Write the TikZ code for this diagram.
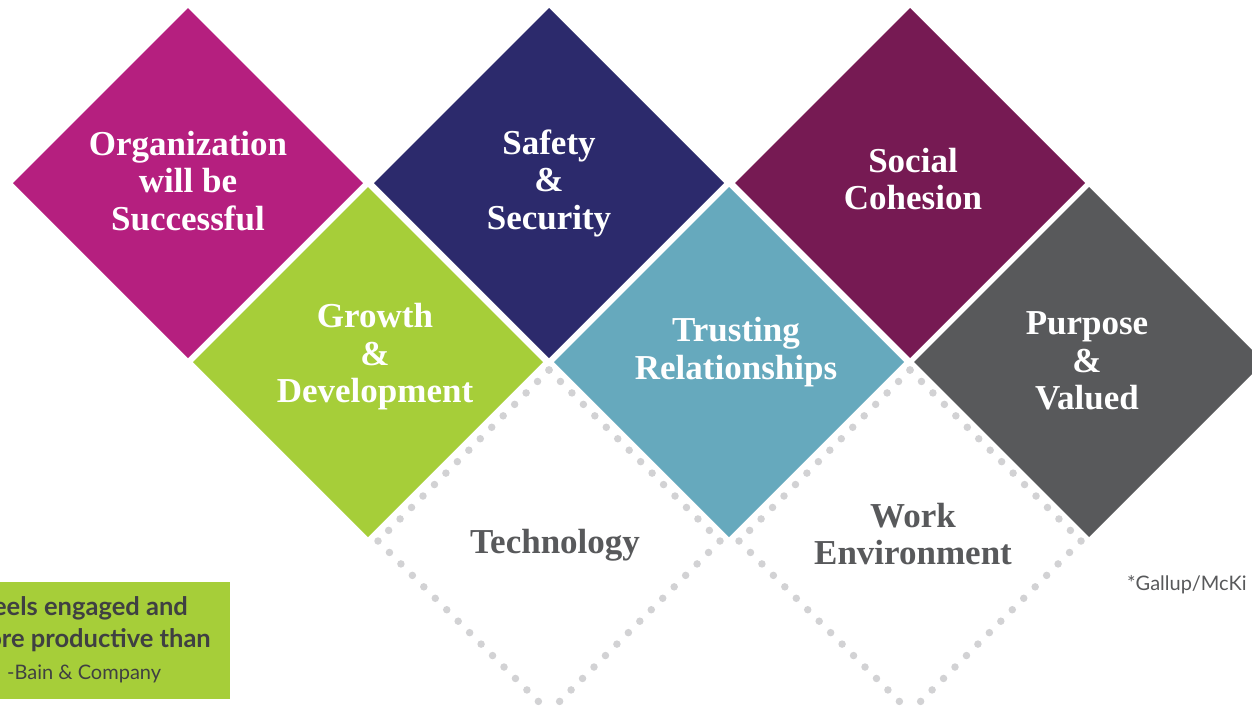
\documentclass[tikz,border=0pt]{standalone}
\usepackage{fontspec}
\setmainfont{Liberation Serif}
\newfontfamily\latofont{Lato}
\usetikzlibrary{shapes.geometric}

\definecolor{tileMagenta}{HTML}{B51F7F}
\definecolor{tileNavy}{HTML}{2C2A6C}
\definecolor{tilePlum}{HTML}{761A53}
\definecolor{tileLime}{HTML}{A6CE39}
\definecolor{tileTeal}{HTML}{66A9BD}
\definecolor{tileSlate}{HTML}{58595B}
\definecolor{dotGray}{HTML}{D2D2D4}
\definecolor{inkGray}{HTML}{58595B}
\definecolor{quoteInk}{HTML}{3F4042}

\begin{document}
\begin{tikzpicture}[x=1pt,y=-1pt,
  tile/.style={diamond, aspect=1, minimum width=350pt, minimum height=350pt,
               inner sep=0pt, outer sep=0pt, draw=none},
  ghost/.style={diamond, aspect=1, minimum width=342pt, minimum height=342pt,
                inner sep=0pt, outer sep=0pt},
  dotline/.style={draw=dotGray, line width=7.5pt, line cap=round,
                  dash pattern=on 0pt off 16.2pt},
  tiletext/.style={align=center, text=white,
                   font=\fontsize{35}{37.5}\selectfont\bfseries},
  ghosttext/.style={align=center, text=inkGray,
                    font=\fontsize{35}{37.5}\selectfont\bfseries},
  quotetext/.style={text=quoteInk, inner sep=0pt}
]
\clip (0,0) rectangle (1252,716);
\useasboundingbox (0,0) rectangle (1252,716);

% dotted outline tiles of the lower row
\node[ghost] (tech) at (549,541) {};
\node[ghost] (work) at (910,541) {};
\foreach \g in {tech,work}{
  \draw[dotline] (\g.north) -- (\g.east);
  \draw[dotline] (\g.east) -- (\g.south);
  \draw[dotline] (\g.north) -- (\g.west);
  \draw[dotline] (\g.west) -- (\g.south);
}

% upper row
\node[tile, fill=tileMagenta] (org)    at (188,183) {};
\node[tile, fill=tileNavy]    (safety) at (549,183) {};
\node[tile, fill=tilePlum]    (social) at (910,183) {};

% middle row
\node[tile, fill=tileLime]  (growth)  at (368,362) {};
\node[tile, fill=tileTeal]  (trust)   at (729,362) {};
\node[tile, fill=tileSlate] (purpose) at (1089,362) {};

% captions
\node[tiletext] (orgT)     at (188,181) {Organization\\will be\\Successful};
\node[tiletext] (safetyT)  at (549,183) {Safety\\\&\\Security};
\node[tiletext] (socialT)  at (913,179) {Social\\Cohesion};
\node[tiletext] (growthT)  at (375,357) {Growth\\\&\\Development};
\node[tiletext] (trustT)   at (736,352) {Trusting\\Relationships};
\node[tiletext] (purposeT) at (1087,361) {Purpose\\\&\\Valued};
\node[ghosttext] (techT)   at (555,545) {Technology};
\node[ghosttext] (workT)   at (913,534) {Work\\Environment};

% quote box
\node[fill=tileLime, minimum width=230pt, minimum height=117pt, inner sep=0pt,
      anchor=north west] (quote) at (0,582) {};
\node[quotetext, anchor=base east,
      font=\latofont\bfseries\fontsize{25.5}{28}\selectfont] (q1) at (188,615) {eels engaged and};
\node[quotetext, anchor=base east,
      font=\latofont\bfseries\fontsize{25.5}{28}\selectfont] (q2) at (211,647) {ore productive than};
\node[quotetext, anchor=base west,
      font=\latofont\fontsize{20}{23}\selectfont] (q3) at (7,679) {-Bain \& Company};

% source note
\node[text=inkGray, inner sep=0pt, anchor=base west,
      font=\latofont\fontsize{20}{24}\selectfont] (src) at (1127,590) {*Gallup/McKi};
\end{tikzpicture}
\end{document}
